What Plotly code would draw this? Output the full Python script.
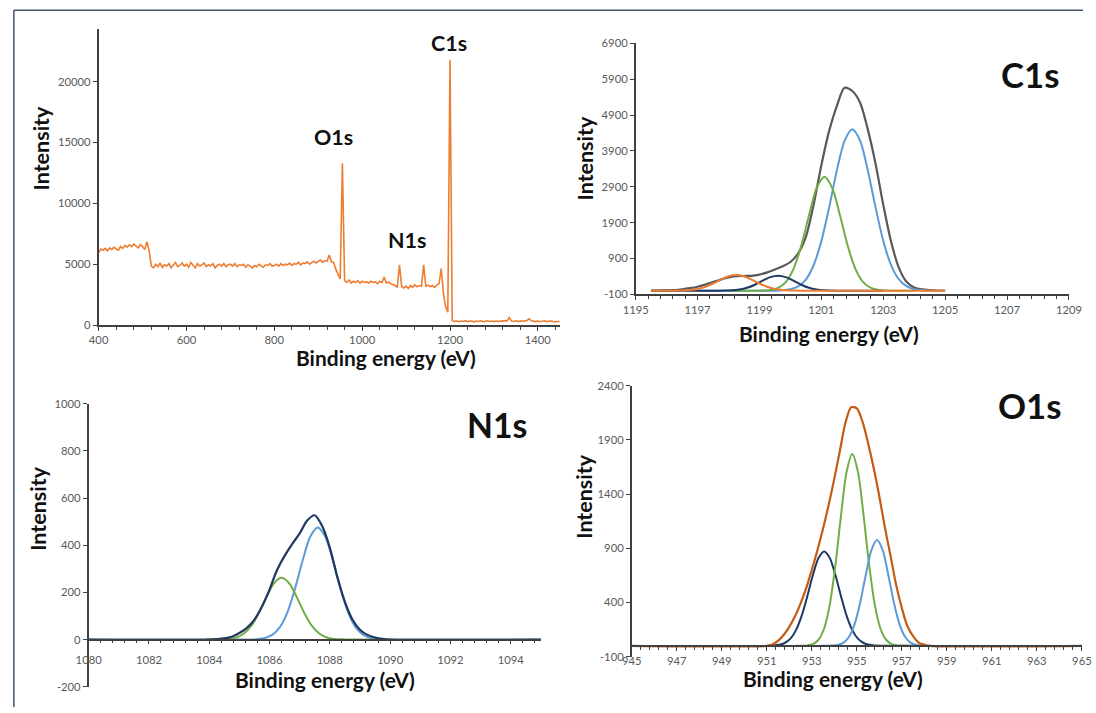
import plotly.graph_objects as go

W, H = 1096, 713
# The captured picture shows the page (with its 8px body margin) scaled by ~0.978;
# layout positions below are given in picture pixels and converted to paper units.
SCALE, SHIFT_X, SHIFT_Y, BODY = 0.978, 4.4, 0.0, 8.0

# ---------------- Survey spectrum ----------------
survey_x = list(range(400, 1451, 5))
survey_y = [
    5950, 6250, 6150, 6300, 6100, 6350, 6200, 6400, 6250, 6150, 6450, 6300, 6550, 6400, 6600, 6450, 6650, 6500, 6350, 6600,
    6450, 6200, 6850, 6100, 4850, 4700, 5000, 4800, 5100, 4750, 4950, 4850, 5050, 4700, 4950, 5150, 4800, 4900, 5100, 4850,
    5000, 4750, 5150, 4900, 4700, 5050, 4850, 4950, 5100, 4800, 4950, 4850, 5050, 4700, 4900, 5000, 4850, 5050, 4800, 4950,
    5000, 4850, 5050, 4800, 4950, 4900, 5000, 4750, 4950, 4850, 4700, 4900, 4800, 5000, 4850, 4750, 4950, 4900, 5050, 4850,
    4900, 5000, 4850, 5050, 4900, 5000, 4950, 5100, 4900, 5050, 5000, 5150, 4950, 5100, 5050, 5200, 5000, 5150, 5250, 5100,
    5200, 5350, 5150, 5300, 5250, 5750, 5200, 5150, 4600, 4200, 3800, 13300, 3650, 3500, 3700, 3450, 3600, 3500, 3650, 3450,
    3600, 3500, 3550, 3450, 3600, 3500, 3550, 3400, 3600, 3500, 3950, 3450, 3550, 3400, 3350, 3250, 3100, 4950, 3150, 3050,
    3200, 3000, 3250, 3100, 3300, 3150, 3250, 3200, 4950, 3150, 3300, 3150, 3250, 3100, 3300, 3400, 4650, 2600, 1500, 1050,
    21800, 380, 300, 350, 280, 330, 300, 360, 290, 340, 310, 270, 330, 300, 350, 290, 320, 360, 300, 330,
    290, 340, 300, 330, 310, 370, 340, 620, 330, 300, 350, 290, 330, 310, 340, 380, 520, 350, 310, 290,
    330, 280, 320, 350, 290, 310, 340, 280, 320, 300, 290,
]
survey_xticks = [400, 600, 800, 1000, 1200, 1400]
survey_xlabels = ["400", "600", "800", "1000", "1200", "1400"]
survey_yticks = [0, 5000, 10000, 15000, 20000]
survey_ylabels = ["0", "5000", "10000", "15000", "20000"]
survey_peaks = ["C1s", "O1s", "N1s"]

# ---------------- C1s ----------------
c1s_env_x = [1195.5, 1195.75, 1196.0, 1196.25, 1196.5, 1196.75, 1197.0, 1197.25, 1197.5, 1197.75,
             1198.0, 1198.25, 1198.5, 1198.75, 1199.0, 1199.25, 1199.5, 1199.75, 1200.0, 1200.25,
             1200.5, 1200.75, 1201.0, 1201.25, 1201.5, 1201.75, 1202.0, 1202.25, 1202.5, 1202.75,
             1203.0, 1203.25, 1203.5, 1203.75, 1204.0, 1204.25, 1204.5, 1204.75, 1205.0]
c1s_env_y = [0, 5, 10, 20, 40, 70, 110, 170, 240, 310,
             370, 405, 410, 415, 450, 510, 590, 680, 800, 1040,
             1500, 2400, 3500, 4450, 5150, 5660, 5570, 5250, 4500, 3550,
             2400, 1380, 650, 250, 90, 35, 15, 5, 0]
c1s_blue_x = [1197.0, 1199.5, 1199.75, 1200.0, 1200.25, 1200.5, 1200.75, 1201.0, 1201.25, 1201.5, 1201.75,
              1202.0, 1202.25, 1202.5, 1202.75, 1203.0, 1203.25, 1203.5, 1203.75, 1204.0, 1204.25, 1204.5]
c1s_blue_y = [0, 0, 10, 40, 120, 310, 710, 1380, 2310, 3350, 4180,
              4500, 4190, 3360, 2330, 1390, 720, 320, 125, 40, 12, 0]
c1s_green_x = [1198.0, 1198.6, 1198.85, 1199.1, 1199.35, 1199.6, 1199.85, 1200.1, 1200.35, 1200.6, 1200.85,
               1201.1, 1201.35, 1201.6, 1201.85, 1202.1, 1202.35, 1202.6, 1202.85, 1203.1, 1203.35, 1203.6, 1204.0]
c1s_green_y = [0, 0, 0, 5, 20, 75, 240, 610, 1250, 2100, 2870,
               3180, 2870, 2110, 1260, 610, 240, 80, 20, 5, 0, 0, 0]
c1s_navy_x = [1195.5, 1197.1, 1197.35, 1197.6, 1197.85, 1198.1, 1198.35, 1198.6, 1198.85, 1199.1, 1199.35,
              1199.6, 1199.85, 1200.1, 1200.35, 1200.6, 1200.85, 1201.1, 1201.35, 1201.6, 1201.85, 1202.1, 1203.0]
c1s_navy_y = [0, 0, 0, 1, 3, 10, 32, 80, 166, 278, 379,
              420, 379, 278, 166, 80, 32, 10, 3, 1, 0, 0, 0]
c1s_orange_x = [1195.5, 1195.75, 1196.0, 1196.25, 1196.5, 1196.75, 1197.0, 1197.25, 1197.5, 1197.75, 1198.0,
                1198.25, 1198.5, 1198.75, 1199.0, 1199.25, 1199.5, 1199.75, 1200.0, 1200.25, 1200.5, 1200.75, 1205.0]
c1s_orange_y = [0, 0, 0, 2, 6, 19, 50, 110, 201, 311, 403,
                440, 403, 311, 201, 110, 50, 19, 6, 2, 0, 0, 0]
c1s_xticks = [1195, 1197, 1199, 1201, 1203, 1205, 1207, 1209]
c1s_xlabels = ["1195", "1197", "1199", "1201", "1203", "1205", "1207", "1209"]
c1s_yticks = [-100, 900, 1900, 2900, 3900, 4900, 5900, 6900]
c1s_ylabels = ["-100", "900", "1900", "2900", "3900", "4900", "5900", "6900"]

# ---------------- N1s ----------------
n1s_env_x = [1080.0, 1084.0, 1084.5, 1084.75, 1085.0, 1085.25, 1085.5, 1085.75, 1086.0, 1086.25, 1086.5,
             1086.75, 1087.0, 1087.25, 1087.5, 1087.75, 1088.0, 1088.25, 1088.5, 1088.75, 1089.0,
             1089.25, 1089.5, 1089.75, 1090.0, 1095.0]
n1s_env_y = [0, 0, 5, 12, 28, 50, 85, 140, 212, 295, 355,
             405, 450, 505, 527, 480, 390, 265, 160, 85, 42,
             20, 9, 3, 0, 0]
n1s_blue_x = [1080.0, 1085.1, 1085.35, 1085.6, 1085.85, 1086.1, 1086.35, 1086.6, 1086.85, 1087.1, 1087.35,
              1087.6, 1087.85, 1088.1, 1088.35, 1088.6, 1088.85, 1089.1, 1089.35, 1089.6, 1089.85, 1090.1, 1095.0]
n1s_blue_y = [0, 0, 0, 2, 7, 21, 54, 118, 218, 336, 436,
              475, 436, 336, 218, 118, 54, 21, 7, 2, 0, 0, 0]
n1s_green_x = [1083.9, 1084.15, 1084.4, 1084.65, 1084.9, 1085.15, 1085.4, 1085.65, 1085.9, 1086.15,
               1086.4, 1086.65, 1086.9, 1087.15, 1087.4, 1087.65, 1087.9, 1088.15, 1088.4, 1088.65, 1088.9, 1089.6]
n1s_green_y = [0, 0, 1, 3, 9, 26, 59, 114, 181, 239,
               262, 239, 181, 114, 59, 26, 9, 3, 1, 0, 0, 0]
n1s_xticks = [1080, 1082, 1084, 1086, 1088, 1090, 1092, 1094]
n1s_xlabels = ["1080", "1082", "1084", "1086", "1088", "1090", "1092", "1094"]
n1s_yticks = [-200, 0, 200, 400, 600, 800, 1000]
n1s_ylabels = ["-200", "0", "200", "400", "600", "800", "1000"]

# ---------------- O1s ----------------
o1s_env_x = [945.0, 951.0, 951.25, 951.5, 951.75, 952.0, 952.25, 952.5, 952.75, 953.0, 953.25,
             953.5, 953.75, 954.0, 954.25, 954.5, 954.75, 955.0, 955.25, 955.5, 955.75,
             956.0, 956.25, 956.5, 956.75, 957.0, 957.25, 957.5, 957.75, 958.0, 958.25, 965.0]
o1s_env_y = [0, 0, 12, 45, 100, 175, 270, 390, 530, 700, 880,
             1080, 1300, 1540, 1800, 2060, 2200, 2190, 2070, 1870, 1640,
             1380, 1090, 830, 560, 350, 180, 90, 30, 10, 0, 0]
o1s_navy_x = [951.05, 951.3, 951.55, 951.8, 952.05, 952.3, 952.55, 952.8, 953.05, 953.3,
              953.55, 953.8, 954.05, 954.3, 954.55, 954.8, 955.05, 955.3, 955.55, 955.8, 956.05, 958.0]
o1s_navy_y = [1, 3, 9, 26, 66, 145, 276, 456, 653, 810,
              870, 810, 653, 456, 276, 145, 66, 26, 9, 3, 1, 0]
o1s_green_x = [952.3, 952.55, 952.8, 953.05, 953.3, 953.55, 953.8, 954.05, 954.3, 954.55,
               954.8, 955.05, 955.3, 955.55, 955.8, 956.05, 956.3, 956.55, 956.8, 957.05, 957.3]
o1s_green_y = [0, 1, 4, 16, 56, 160, 380, 745, 1205, 1607,
               1770, 1607, 1205, 745, 380, 160, 56, 16, 4, 1, 0]
o1s_blue_x = [953.4, 953.65, 953.9, 954.15, 954.4, 954.65, 954.9, 955.15, 955.4, 955.65,
              955.9, 956.15, 956.4, 956.65, 956.9, 957.15, 957.4, 957.65, 957.9, 958.15, 958.4]
o1s_blue_y = [0, 0, 2, 7, 27, 81, 198, 398, 654, 882,
              975, 882, 654, 398, 198, 81, 27, 7, 2, 0, 0]
o1s_xticks = [945, 947, 949, 951, 953, 955, 957, 959, 961, 963, 965]
o1s_xlabels = ["945", "947", "949", "951", "953", "955", "957", "959", "961", "963", "965"]
o1s_yticks = [-100, 400, 900, 1400, 1900, 2400]
o1s_ylabels = ["-100", "400", "900", "1400", "1900", "2400"]

axis_title_x = "Binding energy (eV)"
axis_title_y = "Intensity"

# ---------------- colours ----------------
ORANGE = "#ed7d31"
DARKORANGE = "#c55a11"
BLUE = "#5b9bd5"
GREEN = "#70ad47"
NAVY = "#203864"
GRAY = "#595959"
TICKC = "#595959"
AXC = "#404040"
FONT = "Lato"


def px(x):
    f = (x - SHIFT_X) / SCALE - BODY
    return min(max(f / W, 0.0), 1.0)


def py(y):
    f = (y - SHIFT_Y) / SCALE - BODY
    return min(max(1 - f / H, 0.0), 1.0)


def fs(size):
    return size / SCALE


fig = go.Figure()

panels = {
    "1": dict(xd=(98, 560), yd=(324.7, 30), xr=(400, 1450), yr=(0, 24300),
              xt=(survey_xticks, survey_xlabels), yt=(survey_yticks, survey_ylabels), minor=40, zero=None),
    "2": dict(xd=(636, 1070), yd=(294, 44), xr=(1195, 1209), yr=(-100, 6900),
              xt=(c1s_xticks, c1s_xlabels), yt=(c1s_yticks, c1s_ylabels), minor=0.4, zero=None),
    "3": dict(xd=(88, 541), yd=(685, 403), xr=(1080, 1095), yr=(-200, 1000),
              xt=(n1s_xticks, n1s_xlabels), yt=(n1s_yticks, n1s_ylabels), minor=0.4, zero=0),
    "4": dict(xd=(632, 1083), yd=(655, 385), xr=(945, 965), yr=(-100, 2400),
              xt=(o1s_xticks, o1s_xlabels), yt=(o1s_yticks, o1s_ylabels), minor=0.4, zero=0),
}

layout_axes = {}
for k, p in panels.items():
    xname = "xaxis" if k == "1" else f"xaxis{k}"
    yname = "yaxis" if k == "1" else f"yaxis{k}"
    ydom = [py(p["yd"][0]), py(p["yd"][1])]
    xaxis = dict(
        domain=[px(p["xd"][0]), px(p["xd"][1])], range=list(p["xr"]),
        showgrid=False, zeroline=False, showline=True, linecolor=AXC, linewidth=1.5,
        ticks="outside", ticklen=4, tickcolor=AXC, tickwidth=1,
        tickvals=p["xt"][0], ticktext=p["xt"][1],
        tickfont=dict(family=FONT, size=fs(11), color=TICKC),
        minor=dict(ticks="outside", ticklen=3, tickcolor=AXC, dtick=p["minor"], tick0=p["xr"][0], showgrid=False),
        anchor="y" if k == "1" else f"y{k}", fixedrange=True,
    )
    if p["zero"] is not None:
        frac = (p["zero"] - p["yr"][0]) / (p["yr"][1] - p["yr"][0])
        xaxis["anchor"] = "free"
        xaxis["position"] = ydom[0] + frac * (ydom[1] - ydom[0])
        xaxis["ticklabelstandoff"] = 6 if k == "3" else 1
    yaxis = dict(
        domain=ydom, range=list(p["yr"]),
        showgrid=False, zeroline=False, showline=True, linecolor=AXC, linewidth=1.5,
        ticks="outside", ticklen=4, tickcolor=AXC, tickwidth=1,
        tickvals=p["yt"][0], ticktext=p["yt"][1],
        tickfont=dict(family=FONT, size=fs(11), color=TICKC),
        anchor="x" if k == "1" else f"x{k}", fixedrange=True,
    )
    layout_axes[xname] = xaxis
    layout_axes[yname] = yaxis


def add(x, y, color, axis, width=2.0, shape="spline"):
    xa = "x" if axis == "1" else f"x{axis}"
    ya = "y" if axis == "1" else f"y{axis}"
    line = dict(color=color, width=width, shape=shape)
    if shape == "spline":
        line["smoothing"] = 0.8
    fig.add_trace(go.Scatter(x=x, y=y, mode="lines", xaxis=xa, yaxis=ya, line=line,
                             showlegend=False, hoverinfo="skip"))


# survey
add(survey_x, survey_y, ORANGE, "1", width=1.6, shape="linear")
# C1s
add(c1s_env_x, c1s_env_y, GRAY, "2", width=2.2)
add(c1s_blue_x, c1s_blue_y, BLUE, "2")
add(c1s_green_x, c1s_green_y, GREEN, "2")
add(c1s_navy_x, c1s_navy_y, NAVY, "2")
add(c1s_orange_x, c1s_orange_y, ORANGE, "2")
# N1s
add(n1s_blue_x, n1s_blue_y, BLUE, "3")
add(n1s_green_x, n1s_green_y, GREEN, "3")
add(n1s_env_x, n1s_env_y, NAVY, "3", width=2.2)
# O1s
add(o1s_navy_x, o1s_navy_y, NAVY, "4")
add(o1s_green_x, o1s_green_y, GREEN, "4")
add(o1s_blue_x, o1s_blue_y, BLUE, "4")
add(o1s_env_x, o1s_env_y, DARKORANGE, "4", width=2.2)

annotations = []


def text(t, x, y, size, angle=0):
    annotations.append(dict(text=t, x=px(x), y=py(y), xref="paper", yref="paper",
                            showarrow=False, xanchor="center", yanchor="middle", textangle=angle,
                            font=dict(family=FONT, size=fs(size), color="#111111", weight="bold")))


# axis titles
text(axis_title_y, 40, 148, 21, -90)
text(axis_title_x, 386, 357, 20.5)
text(axis_title_y, 585, 158, 21, -90)
text(axis_title_x, 830, 333, 20.5)
text(axis_title_y, 37, 507, 21, -90)
text(axis_title_x, 325, 678, 20.5)
text(axis_title_y, 584, 495, 21, -90)
text(axis_title_x, 834, 677, 20.5)
# peak labels
text(survey_peaks[0], 449, 44, 21)
text(survey_peaks[1], 333, 137, 21)
text(survey_peaks[2], 407, 240, 21)
text("C1s", 1031, 75, 34)
text("N1s", 497, 424, 33)
text("O1s", 1031, 405, 34)

FRAME = "#44546a"
shapes = [
    dict(type="line", xref="paper", yref="paper", x0=0.0008, x1=1, y0=py(11), y1=py(11),
         line=dict(color=FRAME, width=1.5)),
    dict(type="line", xref="paper", yref="paper", x0=0.0008, x1=0.0008, y0=0, y1=py(11),
         line=dict(color=FRAME, width=1.5)),
]

fig.update_layout(
    width=W, height=H, margin=dict(l=0, r=0, t=0, b=0),
    paper_bgcolor="white", plot_bgcolor="white",
    showlegend=False, annotations=annotations, shapes=shapes,
    **layout_axes,
)

fig.write_html("out.html")
